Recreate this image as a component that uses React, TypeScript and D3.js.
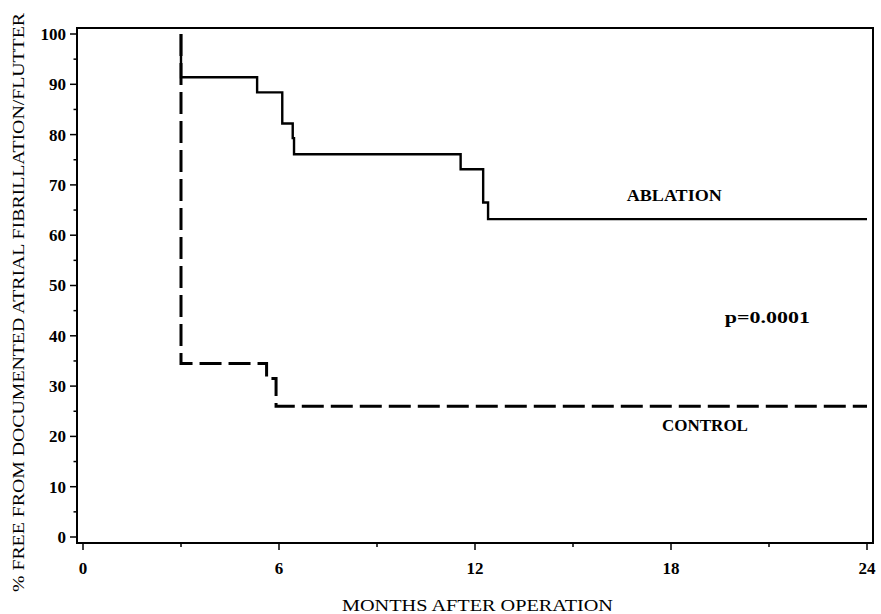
import { useEffect, useRef } from 'react';
import * as d3 from 'd3';

// Kaplan-Meier style step data
const ablationMonths = [3, 3, 5.33, 6.1, 6.42, 6.46, 11.56, 12.25, 12.4, 24];
const ablationPct = [100, 91.4, 88.4, 82.2, 79.3, 76.1, 73.1, 66.5, 63.2, 63.2];

const controlMonths = [3, 3, 5.62, 5.91, 24];
const controlPct = [100, 34.5, 31.5, 26.0, 26.0];

const xMajorTicks = [0, 6, 12, 18, 24];
const xMinorTicks = [3, 9, 15, 21];
const yMajorTicks = [0, 10, 20, 30, 40, 50, 60, 70, 80, 90, 100];
const yMinorTicks = [5, 15, 25, 35, 45, 55, 65, 75, 85, 95];

const yTitle = '% FREE FROM DOCUMENTED ATRIAL FIBRILLATION/FLUTTER';
const xTitle = 'MONTHS AFTER OPERATION';
const labels = [
  { text: 'ABLATION', month: 18.1, pct: 68.0, len: 95 },
  { text: 'p=0.0001', month: 20.95, pct: 43.7, len: 85 },
  { text: 'CONTROL', month: 19.04, pct: 22.3, len: 86 },
];

const WIDTH = 881;
const HEIGHT = 614;
const FONT = '"Liberation Serif", "DejaVu Serif", serif';

export default function App() {
  const svgRef = useRef<SVGSVGElement | null>(null);

  useEffect(() => {
    if (!svgRef.current) return;
    const svg = d3.select(svgRef.current);
    svg.selectAll('*').remove();

    const x = d3.scaleLinear().domain([0, 24]).range([83, 867]);
    const y = d3.scaleLinear().domain([0, 100]).range([537, 34]);

    // frame
    const frame = { left: 77, top: 28, right: 873, bottom: 543 };
    svg.append('rect')
      .attr('x', frame.left)
      .attr('y', frame.top)
      .attr('width', frame.right - frame.left)
      .attr('height', frame.bottom - frame.top)
      .attr('fill', 'none')
      .attr('stroke', '#000')
      .attr('stroke-width', 2);

    // y ticks
    svg.selectAll('.ymaj').data(yMajorTicks).enter().append('line')
      .attr('x1', frame.left - 7).attr('x2', frame.left)
      .attr('y1', d => y(d)).attr('y2', d => y(d))
      .attr('stroke', '#000').attr('stroke-width', 1.5);
    svg.selectAll('.ymin').data(yMinorTicks).enter().append('line')
      .attr('x1', frame.left - 3.5).attr('x2', frame.left)
      .attr('y1', d => y(d)).attr('y2', d => y(d))
      .attr('stroke', '#000').attr('stroke-width', 1.5);
    svg.selectAll('.ylab').data(yMajorTicks).enter().append('text')
      .attr('x', frame.left - 11)
      .attr('y', d => y(d))
      .attr('dy', '0.35em')
      .attr('text-anchor', 'end')
      .style('font-family', FONT)
      .style('font-weight', 'bold')
      .style('font-size', '17px')
      .text(d => d);

    // x ticks
    svg.selectAll('.xmaj').data(xMajorTicks).enter().append('line')
      .attr('x1', d => x(d)).attr('x2', d => x(d))
      .attr('y1', frame.bottom).attr('y2', frame.bottom + 7)
      .attr('stroke', '#000').attr('stroke-width', 1.5);
    svg.selectAll('.xmin').data(xMinorTicks).enter().append('line')
      .attr('x1', d => x(d)).attr('x2', d => x(d))
      .attr('y1', frame.bottom).attr('y2', frame.bottom + 4)
      .attr('stroke', '#000').attr('stroke-width', 1.5);
    svg.selectAll('.xlab').data(xMajorTicks).enter().append('text')
      .attr('x', d => x(d))
      .attr('y', 568)
      .attr('dy', '0.35em')
      .attr('text-anchor', 'middle')
      .style('font-family', FONT)
      .style('font-weight', 'bold')
      .style('font-size', '17px')
      .text(d => d);

    // titles
    svg.append('text')
      .attr('x', 342)
      .attr('y', 611)
      .attr('textLength', 271)
      .attr('lengthAdjust', 'spacingAndGlyphs')
      .style('font-family', FONT)
      .style('font-size', '17px')
      .text(xTitle);

    svg.append('text')
      .attr('transform', 'translate(24,592) rotate(-90)')
      .attr('textLength', 579)
      .attr('lengthAdjust', 'spacingAndGlyphs')
      .style('font-family', FONT)
      .style('font-size', '17px')
      .text(yTitle);

    // curves
    const line = d3.line<[number, number]>()
      .x(d => x(d[0]))
      .y(d => y(d[1]))
      .curve(d3.curveStepAfter);

    const controlData = controlMonths.map((m, i) => [m, controlPct[i]] as [number, number]);
    const ablationData = ablationMonths.map((m, i) => [m, ablationPct[i]] as [number, number]);

    svg.append('path')
      .attr('d', line(controlData))
      .attr('fill', 'none')
      .attr('stroke', '#000')
      .attr('stroke-width', 3)
      .attr('stroke-dasharray', '22 7');

    svg.append('path')
      .attr('d', line(ablationData))
      .attr('fill', 'none')
      .attr('stroke', '#000')
      .attr('stroke-width', 2.4);

    // annotations
    svg.selectAll('.ann').data(labels).enter().append('text')
      .attr('x', d => x(d.month) - d.len / 2)
      .attr('y', d => y(d.pct))
      .attr('dy', '0.35em')
      .attr('textLength', d => d.len)
      .attr('lengthAdjust', 'spacingAndGlyphs')
      .style('font-family', FONT)
      .style('font-weight', 'bold')
      .style('font-size', '17px')
      .text(d => d.text);
  }, []);

  return (
    <svg
      ref={svgRef}
      width={WIDTH}
      height={HEIGHT}
      style={{ position: 'absolute', left: 0, top: 0, background: '#fff' }}
    />
  );
}
